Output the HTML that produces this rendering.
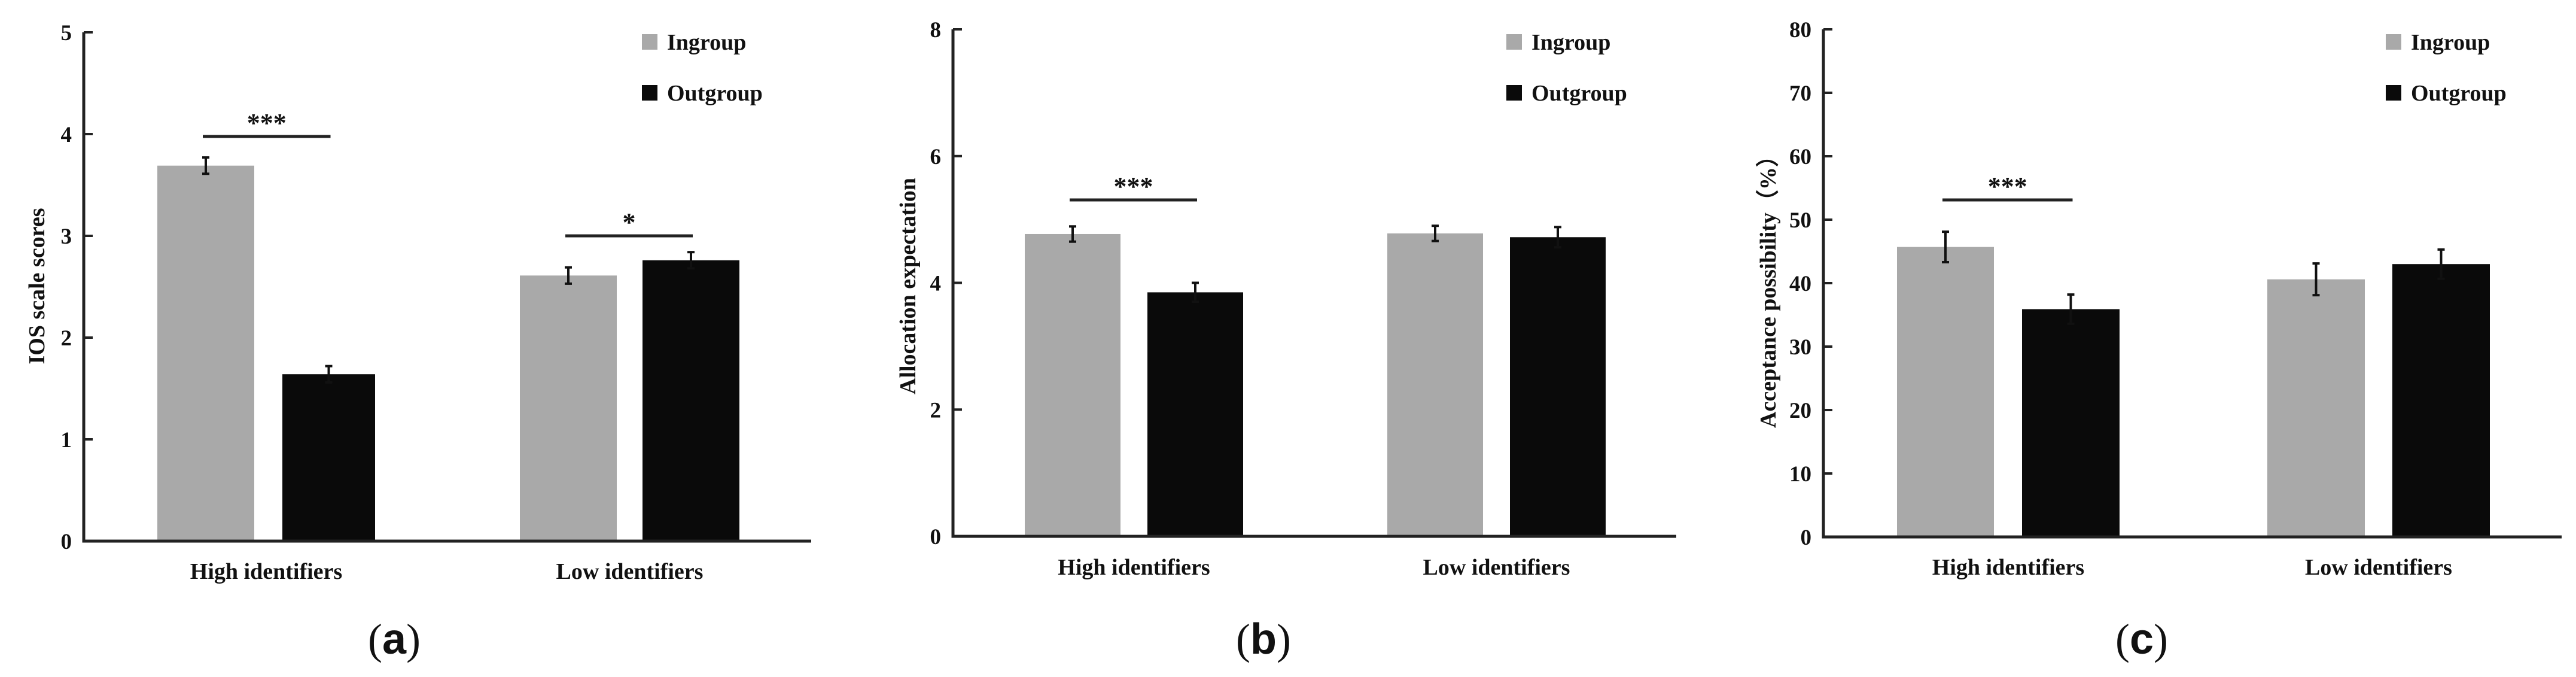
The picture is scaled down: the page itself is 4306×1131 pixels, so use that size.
<!DOCTYPE html>
<html><head><meta charset="utf-8">
<style>
html,body{margin:0;padding:0;background:#fff;}
svg{display:block;}
text{font-family:"Liberation Serif","Times New Roman",serif;font-weight:bold;fill:#111;}
</style></head>
<body>
<svg id="chart" width="4306" height="1131" viewBox="0 0 4306 1131" xmlns="http://www.w3.org/2000/svg"></svg>
<script>
// ---- data ----
const categories = ["High identifiers", "Low identifiers"];
const seriesNames = ["Ingroup", "Outgroup"];
const panelLetters = ["a", "b", "c"];
const yTitles = ["IOS scale scores", "Allocation expectation", "Acceptance possibility（%）"];
const yMaxes = [5, 8, 80];
const yTicksA = [0, 1, 2, 3, 4, 5];
const yTicksB = [0, 2, 4, 6, 8];
const yTicksC = [0, 10, 20, 30, 40, 50, 60, 70, 80];
const ingroupA = [3.69, 2.61];
const outgroupA = [1.64, 2.76];
const ingroupErrA = [0.08, 0.08];
const outgroupErrA = [0.08, 0.08];
const ingroupB = [4.77, 4.78];
const outgroupB = [3.85, 4.72];
const ingroupErrB = [0.12, 0.12];
const outgroupErrB = [0.15, 0.16];
const ingroupC = [45.7, 40.6];
const outgroupC = [35.9, 43.0];
const ingroupErrC = [2.4, 2.5];
const outgroupErrC = [2.3, 2.3];
const sigLabelsA = ["***", "*"];
const sigLabelsB = ["***", ""];
const sigLabelsC = ["***", ""];

// ---- layout (pixel geometry, not data) ----
const layouts = [
  {x0:140, x1:1356, yTop:54, y0:904, bars:[[263,425],[472,627],[869,1031],[1074,1236]], sigY:[228,394], legX:1115, catY:967, letterX:659, titleX:62},
  {x0:1593, x1:2802, yTop:49, y0:896, bars:[[1713,1873],[1918,2078],[2319,2479],[2524,2684]], sigY:[334,0], legX:2560, catY:960, letterX:2112, titleX:1518},
  {x0:3048, x1:4282, yTop:49, y0:897, bars:[[3171,3333],[3380,3543],[3790,3953],[3999,4162]], sigY:[334,0], legX:4030, catY:960, letterX:3580, titleX:2956}
];
const panelData = [
  {ticks:yTicksA, ing:ingroupA, out:outgroupA, ie:ingroupErrA, oe:outgroupErrA, sig:sigLabelsA},
  {ticks:yTicksB, ing:ingroupB, out:outgroupB, ie:ingroupErrB, oe:outgroupErrB, sig:sigLabelsB},
  {ticks:yTicksC, ing:ingroupC, out:outgroupC, ie:ingroupErrC, oe:outgroupErrC, sig:sigLabelsC}
];
const colors = ["#a9a9a9", "#0a0a0a"];
const NS = "http://www.w3.org/2000/svg";
const svg = document.getElementById("chart");
function mk(tag, attrs, parent, txt){
  const e = document.createElementNS(NS, tag);
  for (const k in attrs) e.setAttribute(k, attrs[k]);
  if (txt !== undefined) e.textContent = txt;
  (parent || svg).appendChild(e);
  return e;
}

for (let p = 0; p < 3; p++){
  const L = layouts[p], D = panelData[p], ymax = yMaxes[p];
  const g = mk("g", {});
  
  
  const yS = v => L.y0 - (v / ymax) * (L.y0 - L.yTop);

  for (let c = 0; c < 2; c++){
    const vals = [D.ing[c], D.out[c]], errs = [D.ie[c], D.oe[c]];
    for (let s = 0; s < 2; s++){
      const [bx0, bx1] = L.bars[c*2 + s];
      const top = yS(vals[s]);
      const r = mk("rect", {x:bx0, y:top, width:bx1-bx0, height:L.y0-top, fill:colors[s]}, g);
      
      
      const cx = (bx0 + bx1) / 2;
      const eg = mk("g", {stroke:"#111", "stroke-width":4}, g);
      
      
      const yh = yS(vals[s] + errs[s]), yl = yS(vals[s] - errs[s]);
      mk("line", {x1:cx, x2:cx, y1:yh, y2:yl}, eg);
      mk("line", {x1:cx-6, x2:cx+6, y1:yh, y2:yh}, eg);
      mk("line", {x1:cx-6, x2:cx+6, y1:yl, y2:yl}, eg);
    }
    if (D.sig[c]){
      const sx0 = (L.bars[c*2][0] + L.bars[c*2][1]) / 2 - 5;
      const sx1 = (L.bars[c*2+1][0] + L.bars[c*2+1][1]) / 2 + 3;
      const sy = L.sigY[c];
      const sl = mk("line", {x1:sx0, x2:sx1, y1:sy, y2:sy, stroke:"#222", "stroke-width":5}, g);
      
      
      const st = mk("text", {x:(sx0+sx1)/2, y:sy-8, "text-anchor":"middle", "font-size":44, fill:"#333"}, g, D.sig[c]);
      
      
    }
    const cl = mk("text", {x:(L.bars[c*2][0] + L.bars[c*2+1][1]) / 2, y:L.catY, "text-anchor":"middle", "font-size":38}, g, categories[c]);
    
    
  }

  const ax = mk("path", {d:`M${L.x0} ${L.yTop} V${L.y0} H${L.x1}`, fill:"none", stroke:"#222", "stroke-width":5}, g);
  
  
  D.ticks.forEach(t => {
    const y = yS(t);
    mk("line", {x1:L.x0, x2:L.x0+15, y1:y, y2:y, stroke:"#222", "stroke-width":4}, g);
    const tl = mk("text", {x:L.x0-20, y:y+13, "text-anchor":"end", "font-size":37}, g, String(t));
    
    
  });
  const yt = mk("text", {x:0, y:0, "text-anchor":"middle", "font-size":38, transform:`translate(${L.titleX + 12},478) rotate(-90)`}, g, yTitles[p]);
  
  

  for (let s = 0; s < 2; s++){
    const ly = s === 0 ? 83 : 168;
    const lg = mk("g", {}, g);
    
    
    mk("rect", {x:L.legX-42, y:ly-26, width:26, height:26, fill:colors[s]}, lg);
    mk("text", {x:L.legX, y:ly, "font-size":38}, lg, seriesNames[s]);
  }

  const pl = mk("text", {x:L.letterX, y:1092, "text-anchor":"middle", "font-size":72, style:"font-family:'Liberation Serif',serif;font-weight:normal"}, g);
  
  
  mk("tspan", {}, pl, "(");
  mk("tspan", {style:"font-weight:bold;font-family:'Liberation Sans',sans-serif"}, pl, panelLetters[p]);
  mk("tspan", {}, pl, ")");
}
</script>
</body></html>
